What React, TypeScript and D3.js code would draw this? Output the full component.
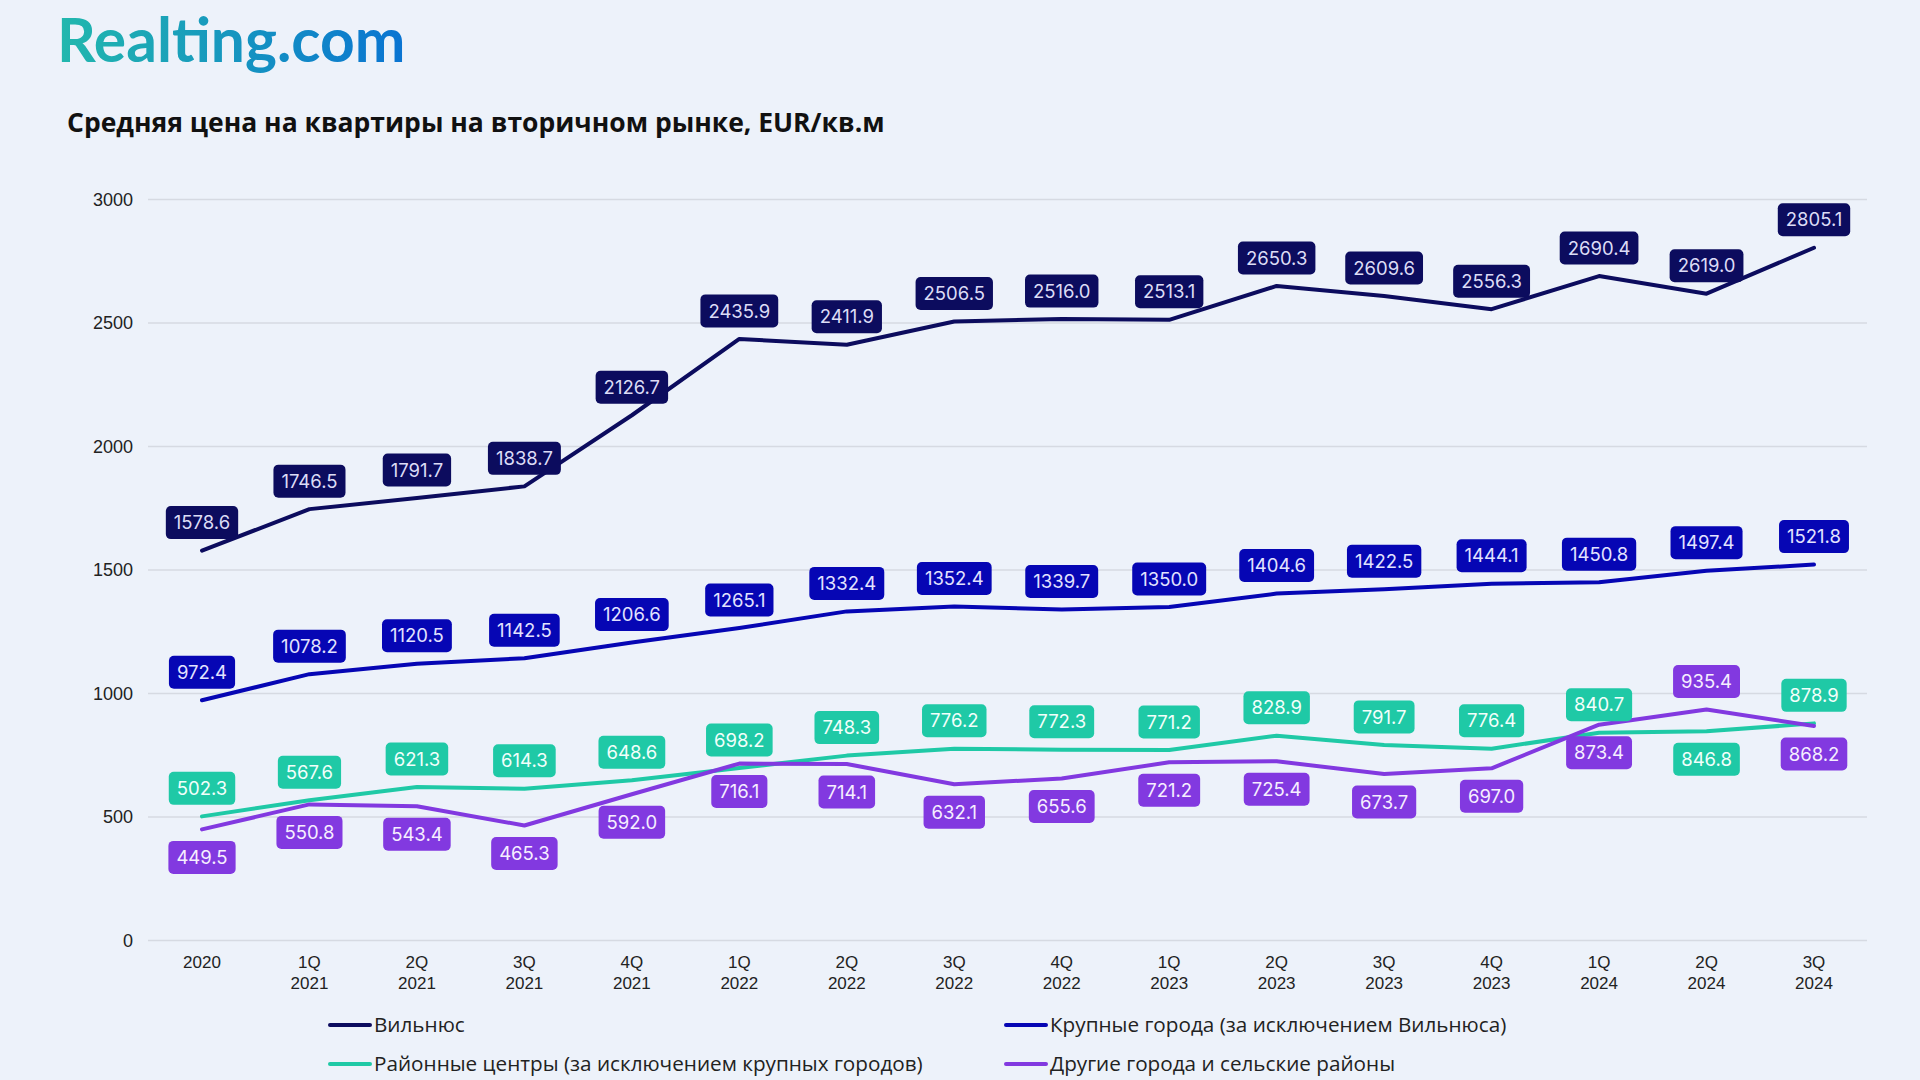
import React, { useEffect, useRef } from 'react'
import * as d3 from 'd3'

// Periods (x axis)
const periods = [
    ['2020'],
    ['1Q', '2021'],
    ['2Q', '2021'],
    ['3Q', '2021'],
    ['4Q', '2021'],
    ['1Q', '2022'],
    ['2Q', '2022'],
    ['3Q', '2022'],
    ['4Q', '2022'],
    ['1Q', '2023'],
    ['2Q', '2023'],
    ['3Q', '2023'],
    ['4Q', '2023'],
    ['1Q', '2024'],
    ['2Q', '2024'],
    ['3Q', '2024'],
]

// EUR per sq.m
const vilnius = [1578.6, 1746.5, 1791.7, 1838.7, 2126.7, 2435.9, 2411.9, 2506.5, 2516.0, 2513.1, 2650.3, 2609.6, 2556.3, 2690.4, 2619.0, 2805.1]
const bigCities = [972.4, 1078.2, 1120.5, 1142.5, 1206.6, 1265.1, 1332.4, 1352.4, 1339.7, 1350.0, 1404.6, 1422.5, 1444.1, 1450.8, 1497.4, 1521.8]
const districtCentres = [502.3, 567.6, 621.3, 614.3, 648.6, 698.2, 748.3, 776.2, 772.3, 771.2, 828.9, 791.7, 776.4, 840.7, 846.8, 878.9]
const otherAreas = [449.5, 550.8, 543.4, 465.3, 592.0, 716.1, 714.1, 632.1, 655.6, 721.2, 725.4, 673.7, 697.0, 873.4, 935.4, 868.2]

const yTicks = [0, 500, 1000, 1500, 2000, 2500, 3000]

const seriesNames = [
    'Вильнюс',
    'Крупные города (за исключением Вильнюса)',
    'Районные центры (за исключением крупных городов)',
    'Другие города и сельские районы',
]

const title = 'Средняя цена на квартиры на вторичном рынке, EUR/кв.м'

const W = 1920
const H = 1080
const BG = '#edf2fa'

const series = [
    { name: seriesNames[0], values: vilnius, color: '#0c0c5e', text: '#dcdcf6', above: true, swap: [] as number[] },
    { name: seriesNames[1], values: bigCities, color: '#0606b4', text: '#e2e2ff', above: true, swap: [] as number[] },
    { name: seriesNames[2], values: districtCentres, color: '#1fc9a6', text: '#f2fffb', above: true, swap: [14] },
    { name: seriesNames[3], values: otherAreas, color: '#8239e0', text: '#f6eeff', above: false, swap: [14] },
]

const draw = (el: SVGSVGElement) => {
    const svg = d3.select(el)
    svg.selectAll('*').remove()

    svg.append('rect').attr('width', W).attr('height', H).attr('fill', BG)

    // Logo
    const defs = svg.append('defs')
    const grad = defs.append('linearGradient').attr('id', 'logoGrad').attr('x1', '0%').attr('x2', '100%')
    grad.append('stop').attr('offset', '0%').attr('stop-color', '#22b8ad')
    grad.append('stop').attr('offset', '100%').attr('stop-color', '#0a74d2')

    svg.append('text')
        .attr('x', 57)
        .attr('y', 62)
        .attr('font-family', 'Lato')
        .attr('font-weight', 700)
        .attr('font-size', 60.5)
        .attr('fill', 'url(#logoGrad)')
        .text('Realting.com')

    // Title
    svg.append('text')
        .attr('x', 67)
        .attr('y', 132)
        .attr('font-family', 'Open Sans')
        .attr('font-weight', 700)
        .attr('font-size', 26.5)
        .attr('fill', '#111')
        .text(title)

    // Scales
    const x = d3
        .scalePoint<number>()
        .domain(d3.range(periods.length))
        .range([202, 1814])

    const y = d3.scaleLinear().domain([0, 3000]).range([940.4, 199.6])

    // Grid
    svg.append('g')
        .selectAll('line')
        .data(yTicks)
        .join('line')
        .attr('x1', 148)
        .attr('x2', 1867)
        .attr('y1', d => y(d))
        .attr('y2', d => y(d))
        .attr('stroke', '#d6dae2')
        .attr('stroke-width', 1.5)

    svg.append('g')
        .selectAll('text')
        .data(yTicks)
        .join('text')
        .attr('x', 133)
        .attr('y', d => y(d))
        .attr('dy', '0.35em')
        .attr('text-anchor', 'end')
        .attr('font-family', 'Liberation Sans')
        .attr('font-size', 18)
        .attr('fill', '#222')
        .text(d => d)

    // X labels
    const xl = svg.append('g')
        .selectAll('text')
        .data(periods)
        .join('text')
        .attr('text-anchor', 'middle')
        .attr('font-family', 'Liberation Sans')
        .attr('font-size', 17)
        .attr('fill', '#222')
    xl.each(function (d, i) {
        const t = d3.select(this)
        d.forEach((s, k) => {
            t.append('tspan')
                .attr('x', x(i))
                .attr('y', 968 + k * 21)
                .text(s)
        })
    })

    // Lines
    const line = d3
        .line<number>()
        .x((_, i) => x(i) as number)
        .y(d => y(d))

    series.forEach(s => {
        svg.append('path')
            .datum(s.values)
            .attr('d', line)
            .attr('fill', 'none')
            .attr('stroke', s.color)
            .attr('stroke-width', 4)
            .attr('stroke-linejoin', 'round')
            .attr('stroke-linecap', 'round')
    })

    // Value labels
    series.forEach(s => {
        const g = svg.append('g')
        s.values.forEach((v, i) => {
            const up = s.swap.includes(i) ? !s.above : s.above
            const cy = y(v) + (up ? -28 : 28)
            const cx = x(i) as number
            const lab = g.append('g')
            const txt = lab
                .append('text')
                .attr('x', cx)
                .attr('y', cy)
                .attr('dy', '0.36em')
                .attr('text-anchor', 'middle')
                .attr('font-family', 'Inter')
                .attr('font-size', 18.5)
                .attr('fill', s.text)
                .text(v.toFixed(1))
            const w = (txt.node() as SVGTextElement).getComputedTextLength() + 16
            lab.insert('rect', 'text')
                .attr('x', cx - w / 2)
                .attr('y', cy - 16.5)
                .attr('width', w)
                .attr('height', 33)
                .attr('rx', 5)
                .attr('fill', s.color)
        })
    })

    // Legend
    const legendPos = [
        [330, 1025],
        [1006, 1025],
        [330, 1064],
        [1006, 1064],
    ]
    series.forEach((s, i) => {
        const [lx, ly] = legendPos[i]
        svg.append('line')
            .attr('x1', lx)
            .attr('x2', lx + 40)
            .attr('y1', ly)
            .attr('y2', ly)
            .attr('stroke', s.color)
            .attr('stroke-width', 4)
            .attr('stroke-linecap', 'round')
        svg.append('text')
            .attr('x', lx + 44)
            .attr('y', ly)
            .attr('dy', '0.35em')
            .attr('font-family', 'Open Sans')
            .attr('font-size', 20.7)
            .attr('fill', '#222')
            .text(s.name)
    })
}

export default function App() {
    const ref = useRef<SVGSVGElement>(null)

    useEffect(() => {
        if (ref.current) draw(ref.current)
    }, [])

    return (
        <svg
            ref={ref}
            width={W}
            height={H}
            style={{ position: 'absolute', left: 0, top: 0, display: 'block' }}
        />
    )
}
